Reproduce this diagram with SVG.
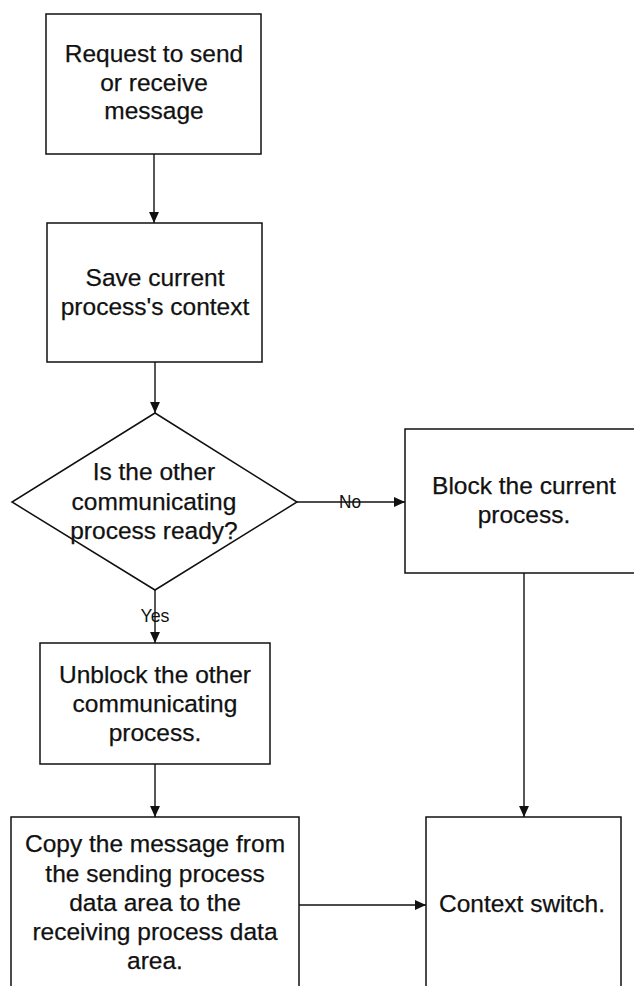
<svg xmlns="http://www.w3.org/2000/svg" width="634" height="986" viewBox="0 0 634 986">
  <style>
    .box { fill: #fff; stroke: #111; stroke-width: 1.5; }
    .lbl { font-family: "Liberation Sans", Arial, sans-serif; font-size: 24.5px; fill: #111; stroke: #111; stroke-width: 0.25; text-anchor: middle; }
    .tag { font-family: "Liberation Sans", Arial, sans-serif; font-size: 19px; fill: #111; text-anchor: middle; }
    .edge { fill: none; stroke: #111; stroke-width: 1.4; marker-end: url(#arrow); }
  </style>
  <defs>
    <marker id="arrow" viewBox="0 0 10 10" refX="10" refY="5" markerWidth="11" markerHeight="11" markerUnits="userSpaceOnUse" orient="auto">
      <path d="M0,0.5 L10,5 L0,9.5 Z" fill="#111"/>
    </marker>
  </defs>
  <rect width="634" height="986" fill="#fff"/>

  <g id="connectors">
    <line class="edge" x1="154" y1="154" x2="154" y2="223"/>
    <line class="edge" x1="155" y1="362" x2="155" y2="413"/>
    <line class="edge" x1="297" y1="502" x2="405" y2="502"/>
    <line class="edge" x1="155" y1="590" x2="155" y2="643"/>
    <line class="edge" x1="155" y1="764" x2="155" y2="817"/>
    <line class="edge" x1="524" y1="573" x2="524" y2="817"/>
    <line class="edge" x1="299" y1="905" x2="426" y2="905"/>
    <text class="tag" x="350" y="508" textLength="22" lengthAdjust="spacingAndGlyphs">No</text>
    <text class="tag" x="155" y="622" textLength="29" lengthAdjust="spacingAndGlyphs">Yes</text>
  </g>

  <g id="request">
    <rect class="box" x="46" y="14" width="215" height="140"/>
    <text class="lbl" x="154" y="62">Request to send</text>
    <text class="lbl" x="154" y="91">or receive</text>
    <text class="lbl" x="154" y="119">message</text>
  </g>

  <g id="save-context">
    <rect class="box" x="47" y="223" width="215" height="139"/>
    <text class="lbl" x="155" y="286">Save current</text>
    <text class="lbl" x="155" y="315">process's context</text>
  </g>

  <g id="ready-check">
    <polygon class="box" points="155,413 297,502 155,590 12,502"/>
    <text class="lbl" x="154" y="480">Is the other</text>
    <text class="lbl" x="154" y="510">communicating</text>
    <text class="lbl" x="154" y="539">process ready?</text>
  </g>

  <g id="block-current">
    <rect class="box" x="405" y="429" width="240" height="144"/>
    <text class="lbl" x="524" y="494">Block the current</text>
    <text class="lbl" x="524" y="523">process.</text>
  </g>

  <g id="unblock-other">
    <rect class="box" x="40" y="643" width="230" height="121"/>
    <text class="lbl" x="155" y="683">Unblock the other</text>
    <text class="lbl" x="155" y="712">communicating</text>
    <text class="lbl" x="155" y="741">process.</text>
  </g>

  <g id="copy-message">
    <rect class="box" x="11" y="817" width="288" height="190"/>
    <text class="lbl" x="155" y="852">Copy the message from</text>
    <text class="lbl" x="155" y="882">the sending process</text>
    <text class="lbl" x="155" y="911">data area to the</text>
    <text class="lbl" x="155" y="940">receiving process data</text>
    <text class="lbl" x="155" y="969">area.</text>
  </g>

  <g id="context-switch">
    <rect class="box" x="426" y="817" width="195" height="190"/>
    <text class="lbl" x="522" y="912">Context switch.</text>
  </g>
</svg>
